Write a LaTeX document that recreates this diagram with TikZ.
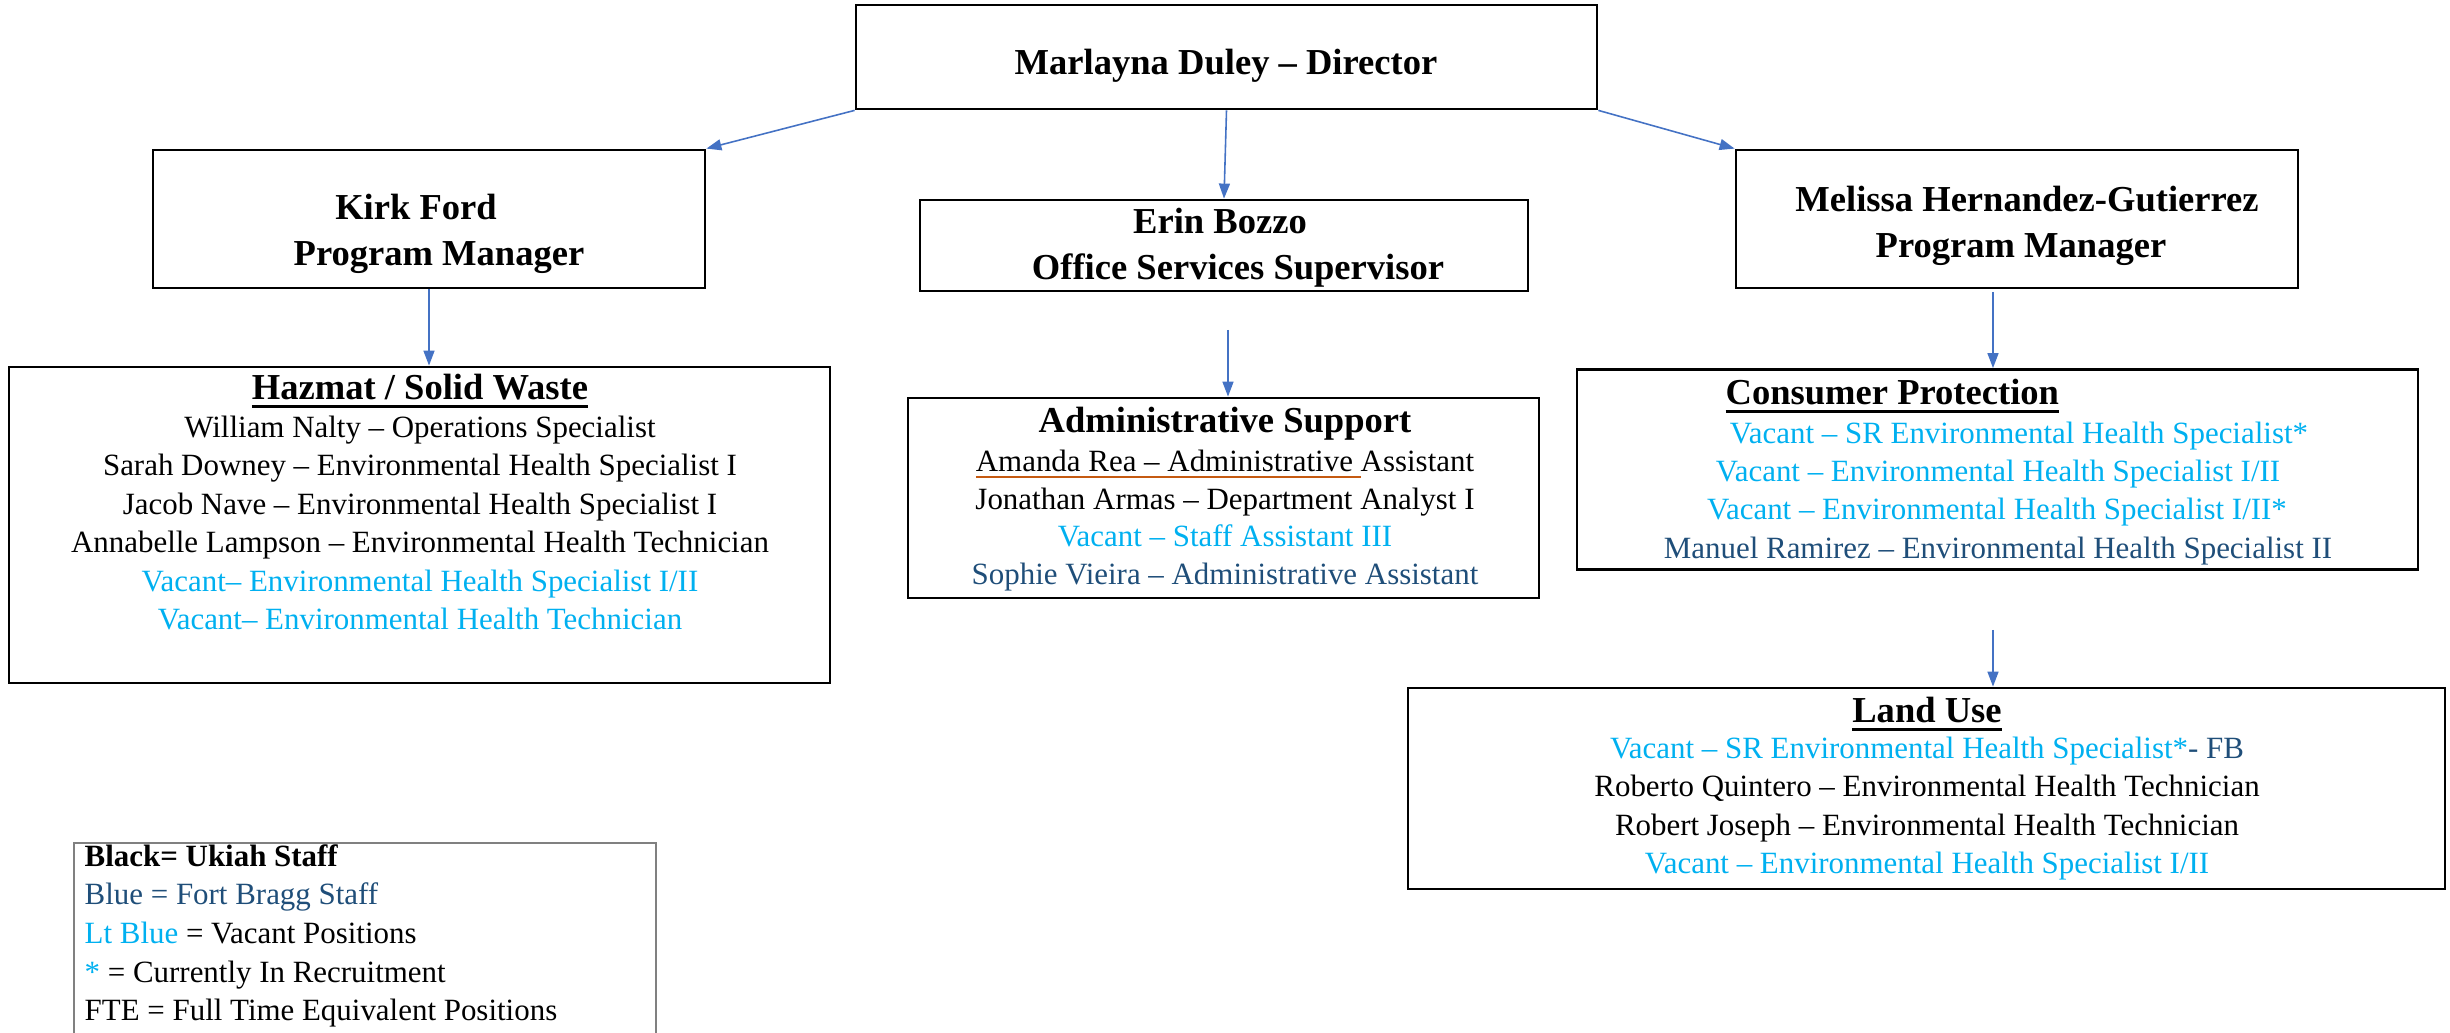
\documentclass[tikz,border=0pt]{standalone}
\usepackage{fontspec}
\setmainfont{Liberation Serif}
\usetikzlibrary{arrows.meta}

\definecolor{ltblue}{HTML}{00B0F0}
\definecolor{fbblue}{HTML}{1F4E79}
\definecolor{linkblue}{HTML}{4472C4}
\definecolor{spellred}{HTML}{C55A11}

\newcommand{\ulin}[1]{\setbox0\hbox{#1}\rlap{\rule[-2.4pt]{\wd0}{0.9pt}}\box0}
\newcommand{\squig}[1]{\setbox0\hbox{#1}\rlap{\color{spellred}\rule[-1.8pt]{\wd0}{0.6pt}}\box0}

\tikzset{
  box/.style={draw, line width=0.8pt, inner sep=0pt},
  keybox/.style={draw=gray, line width=0.5pt, inner sep=0pt},
  line/.style={anchor=base, inner sep=0pt, font=\fontsize{8.8}{10.5}\selectfont},
  head/.style={anchor=base, inner sep=0pt, font=\fontsize{10.4}{12}\selectfont\bfseries},
  link/.style={draw=linkblue, line width=0.45pt, -{Triangle[length=1.5mm,width=1.1mm]}},
}

\begin{document}
\begin{tikzpicture}[x=0.1mm, y=-0.1mm]
  \useasboundingbox (0,0) rectangle (2450,1033);

  \node[box, minimum width=74.1mm, minimum height=10.4mm] (dir) at (1226.5,57) {};
  \node[box, minimum width=55.2mm, minimum height=13.8mm] (kirk) at (429,219) {};
  \node[box, minimum width=60.8mm, minimum height=9.1mm] (erin) at (1224,245.5) {};
  \node[box, minimum width=56.2mm, minimum height=13.8mm] (mel) at (2017,219) {};
  \node[box, minimum width=82.1mm, minimum height=31.6mm] (haz) at (419.5,525) {};
  \node[box, minimum width=63.1mm, minimum height=20mm] (adm) at (1223.5,498) {};
  \node[box, minimum width=84.1mm, minimum height=20mm] (con) at (1997.5,469.5) {};
  \node[box, minimum width=103.7mm, minimum height=20.1mm] (land) at (1926.5,788.5) {};
  \node[keybox, minimum width=58.2mm, minimum height=22mm, anchor=north west] (key) at (73,842) {};

  \node[head] (dir-t) at (1226,75) {Marlayna Duley – Director};
  \node[head] (kirk-t1) at (416,220) {Kirk Ford};
  \node[head] (kirk-t2) at (439,266) {Program Manager};
  \node[head] (erin-t1) at (1220,234) {Erin Bozzo};
  \node[head] (erin-t2) at (1238,280) {Office Services Supervisor};
  \node[head] (mel-t1) at (2027,212) {Melissa Hernandez-Gutierrez};
  \node[head] (mel-t2) at (2021,258) {Program Manager};

  \draw[link] (dir.south west) -- (kirk.north east);
  \draw[link] (dir.south) -- (erin.north);
  \draw[link] (dir.south east) -- (mel.north west);
  \draw[link] (kirk.south) -- (kirk.south |- haz.north);
  \coordinate (erin-out) at (1228,330);
  \draw[link] (erin-out) -- (erin-out |- adm.north);
  \coordinate (mel-out) at (1993,292);
  \draw[link] (mel-out) -- (mel-out |- con.north);
  \coordinate (con-out) at (1993,630);
  \draw[link] (con-out) -- (con-out |- land.north);

  % Hazmat / Solid Waste
  \node[head] (haz-t) at (420,400) {\ulin{Hazmat / Solid Waste}};
  \foreach \t [count=\i] in {William Nalty – Operations Specialist,
      Sarah Downey – Environmental Health Specialist I,
      Jacob Nave – Environmental Health Specialist I,
      Annabelle Lampson – Environmental Health Technician,
      {\color{ltblue}Vacant– Environmental Health Specialist I/II},
      {\color{ltblue}Vacant– Environmental Health Technician}}
    \node[line] (haz-\i) at (420,{399+38.5*\i}) {\t};

  % Administrative Support
  \node[head] (adm-t) at (1225,433) {Administrative Support};
  \foreach \t [count=\i] in {{\squig{Amanda Rea – Administrative }Assistant},
      Jonathan Armas – Department Analyst I,
      {\color{ltblue}Vacant – Staff Assistant III},
      {\color{fbblue}Sophie Vieira – Administrative Assistant}}
    \node[line] (adm-\i) at (1225,{434.5+37.5*\i}) {\t};

  % Consumer Protection
  \node[head, anchor=base west] (con-t) at (1725,405) {\ulin{Consumer Protection}};
  \foreach \x/\t [count=\i] in {2019/{\color{ltblue}Vacant – SR Environmental Health Specialist*},
      1998/{\color{ltblue}Vacant – Environmental Health Specialist I/II},
      1997/{\color{ltblue}Vacant – Environmental Health Specialist I/II*},
      1998/{\color{fbblue}Manuel Ramirez – Environmental Health Specialist II}}
    \node[line] (con-\i) at (\x,{405+38.3*\i}) {\t};

  % Land Use
  \node[head] (land-t) at (1927,723) {\ulin{Land Use}};
  \foreach \t [count=\i] in {{\color{ltblue}Vacant – SR Environmental Health Specialist*\color{fbblue}- FB},
      Roberto Quintero – Environmental Health Technician,
      Robert Joseph – Environmental Health Technician,
      {\color{ltblue}Vacant – Environmental Health Specialist I/II}}
    \node[line] (land-\i) at (1927,{720+38.5*\i}) {\t};

  % key
  \foreach \t [count=\i] in {{\bfseries Black= Ukiah Staff},
      {\color{fbblue}Blue = Fort Bragg Staff},
      {{\color{ltblue}Lt Blue} = Vacant Positions},
      {{\color{ltblue}*} = Currently In Recruitment},
      FTE = Full Time Equivalent Positions}
    \node[line, anchor=base west] (key-\i) at (84,{828+38.5*\i}) {\t};
\end{tikzpicture}
\end{document}
